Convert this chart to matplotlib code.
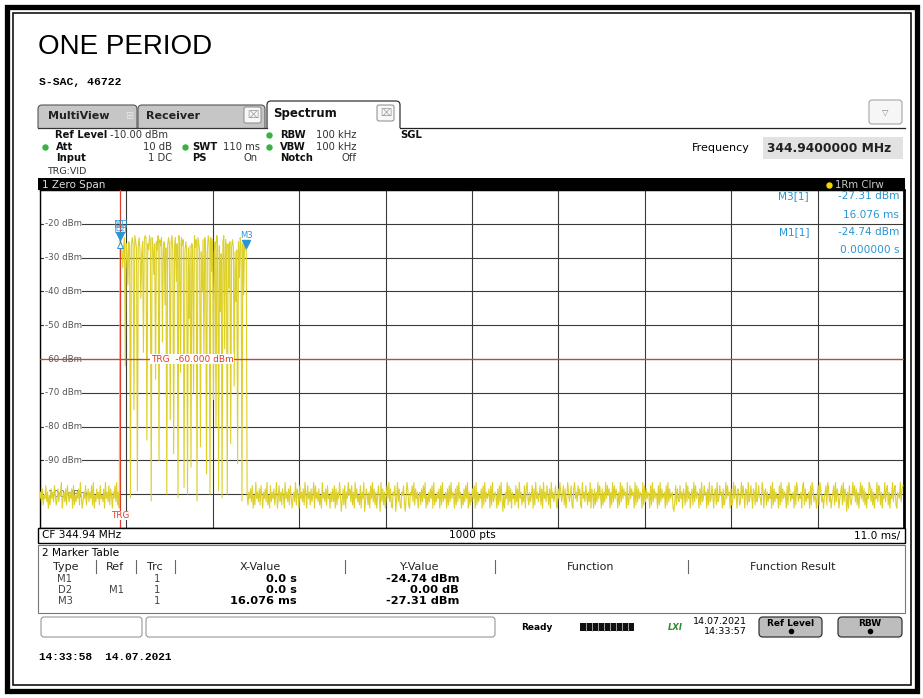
import numpy as np
import matplotlib.pyplot as plt
from matplotlib.patches import Rectangle, FancyBboxPatch

# ---- zero span trace, 1000 pts, 11 ms/div, trigger at 0
n_pts = 1000
dt_ms = 0.11

# noise floor before the trigger (one digit per point, 0 = low .. 9 = high)
noise_pre = ("4637254836152746385247365914637285364718253647295136482573648291"
             "53746284537194638275164839261")

# top of the burst (one digit per point, 0 = -23.5 dBm .. 9 = -28.9 dBm)
burst_top = ("0352617480362514703625174936201847036152483706251973062514730825184703"
             "6152483796251473062514738625184703615248370625197306251473062518470361"
             "5248372")
# notches inside the burst: point index -> dBm
dip_idx = [3, 6, 9, 12, 16, 20, 24, 27, 31, 36, 39, 41, 45, 49, 52, 54, 58, 62,
           65, 67, 70, 74, 78, 80, 82, 85, 89, 93, 95, 97, 100, 104, 106, 108,
           111, 114, 116, 118, 121, 124, 126, 128, 132, 134, 136, 138, 141, 143]
dip_db = [-33, -62, -38, -101, -75, -99, -42, -58, -84, -102, -35, -66, -90, -55,
          -44, -100, -78, -88, -37, -101, -64, -98, -100, -48, -92, -70, -102, -86,
          -40, -60, -94, -100, -34, -72, -80, -99, -46, -101, -57, -100, -39, -85,
          -68, -43, -91, -36, -102, -41]

# noise floor after the burst
noise_post = ("5264738152946372851647392518364725914836275194637285146392751846372951846273591846372519463728451637"
              "3817264950372816495738261947352816490375261849372615840937261584937216580493721658304972165839274615"
              "6273849152637481925364718293546172839465172839461527384916253748192635471829364571829346517283940516"
              "4928371645283719462538179426358172946358271946385271946358217496358271496358217946385721946385263917"
              "5172639485172639485716293847516293847561923847561928374651928374651829374651829374561829374561038274"
              "3846175293846157293846517293485617293485167293485617239485617239485176239485176293485176293485429716"
              "7263548192736451829374651829735461829735461892735461829735416829735146829735146829375146829375061842"
              "4958372615948372615498372615493872615493782615493782165493782165497382165497328165497328164973582614"
              "2846193750284619375028461937502846193750284619375028461937502846193750284619375028461937502846193750")

m1_t, m1_db = 0.0, -24.74
m3_t, m3_db = 16.076, -27.31
trg_db = -60.0
y_ticks = [-20, -30, -40, -50, -60, -70, -80, -90, -100]

pre_db = [-100.8 + (int(c) - 4.5) * 0.95 for c in noise_pre]
burst_db = [-23.5 - 0.6 * int(c) for c in burst_top]
for i, v in zip(dip_idx, dip_db):
    burst_db[i] = v
burst_db[0] = m1_db
burst_db[-1] = m3_db
n_post = n_pts - len(pre_db) - len(burst_db)
post_db = [-100.8 + (int(c) - 4.5) * 0.95 for c in noise_post[:n_post]]
trace = np.array(pre_db + burst_db + post_db)
t = (np.arange(len(trace)) - len(pre_db)) * dt_ms

W, H = 923, 698
fig = plt.figure(figsize=(W / 100, H / 100), dpi=100)
fig.patch.set_facecolor('white')

def px_box(l, tp, r, b):
    return [l / W, 1 - b / H, (r - l) / W, (b - tp) / H]

ax = fig.add_axes(px_box(40, 190, 904, 528))
ax.set_xlim(-10.2, 99.8)
ax.set_ylim(-110, -10)
ax.set_xticks([-10.2 + 11 * k for k in range(11)])
ax.set_yticks(range(-110, -9, 10))
ax.grid(True, color='#3a3a3a', lw=0.8, zorder=1)
ax.tick_params(length=0, labelbottom=False, labelleft=False)
for s in ax.spines.values():
    s.set_color('black')
    s.set_linewidth(1.0)
ax.spines['right'].set_linewidth(2.0)
ax.set_axisbelow(True)

grey = '#555555'
for v in y_ticks:
    ax.text(-9.6, v, f"{v} dBm", fontsize=6.3, color=grey, va='center', ha='left',
            zorder=2, bbox=dict(fc='white', ec='none', pad=0.4))

ax.plot(t, trace, color='#ddd02a', lw=0.8, zorder=3)

red = '#e03c2c'
ax.axvline(0, color=red, lw=0.9, zorder=4)
ax.axhline(trg_db, color=red, lw=0.9, zorder=4)
ax.text(3.9, trg_db, "TRG  -60.000 dBm", fontsize=6.5, color=red, va='center',
        ha='left', zorder=5, bbox=dict(fc='white', ec='none', pad=0.6))
ax.text(0, -106.3, "TRG", fontsize=6.3, color=red, va='center', ha='center',
        zorder=5, bbox=dict(fc='white', ec='none', pad=0.3))

blue = '#2896d2'
ax.plot([m1_t], [m1_db + 1.2], marker='v', ms=5.5, color=blue, zorder=6, clip_on=False)
ax.plot([m1_t], [m1_db - 1.6], marker='^', ms=4.5, mfc='white', mec=blue, mew=0.7, zorder=6)
ax.text(m1_t, m1_db + 4.9, "M1", fontsize=5, color=blue, ha='center', va='center', zorder=6,
        bbox=dict(fc='none', ec=blue, lw=0.5, pad=0.2))
ax.text(m1_t, m1_db + 3.3, "D2", fontsize=5, color=blue, ha='center', va='center', zorder=6,
        bbox=dict(fc='none', ec=blue, lw=0.5, pad=0.2))
ax.plot([m3_t], [m3_db + 1.2], marker='v', ms=5.5, color=blue, zorder=6)
ax.text(m3_t, m3_db + 3.9, "M3", fontsize=6, color=blue, ha='center', va='center', zorder=6)

# ---- instrument screen around the diagram, in pixel coordinates
ov = fig.add_axes([0, 0, 1, 1], zorder=10)
ov.set_xlim(0, W)
ov.set_ylim(H, 0)
ov.axis('off')

def T(x, y, s, **kw):
    kw.setdefault('fontsize', 7.2)
    kw.setdefault('va', 'center')
    kw.setdefault('family', 'DejaVu Sans')
    kw.setdefault('zorder', 7)
    ov.text(x, y, s, **kw)

def rbox(x0, y0, x1, y1, r, fc, ec, lw, z=1):
    ov.add_patch(FancyBboxPatch((x0, y0), x1 - x0, y1 - y0,
                                boxstyle=f"round,pad=0,rounding_size={r}",
                                fc=fc, ec=ec, lw=lw, zorder=z))

def dot(x, y, c='#3cb043'):
    ov.plot([x], [y], 'o', ms=3.6, color=c, zorder=7)

# outer frame
ov.add_patch(Rectangle((6.5, 6.5), 910, 684.5, fill=False, ec='black', lw=3.8, zorder=20))
ov.add_patch(Rectangle((12.5, 12.5), 898, 672, fill=False, ec='black', lw=1.1, zorder=20))

T(38, 47, "ONE PERIOD", fontsize=20, family='Liberation Sans')
T(39, 82, "S-SAC, 46722", fontsize=8.2, family='Liberation Mono', weight='bold')
T(39, 657, "14:33:58  14.07.2021", fontsize=8, family='Liberation Mono', weight='bold')

# tabs
rbox(38, 105, 137, 136, 4, '#c6c6c6', '#555555', 0.8)
rbox(138, 105, 265, 136, 4, '#c6c6c6', '#555555', 0.8)
rbox(267, 101, 400, 136, 4, 'white', '#333333', 0.9, z=2)
ov.add_patch(Rectangle((37, 128), 869, 50, fc='white', ec='none', zorder=3))
ov.plot([38, 267], [127.5, 127.5], color='#333333', lw=0.9, zorder=4)
ov.plot([400, 905], [127.5, 127.5], color='#222222', lw=0.9, zorder=4)
T(48, 116, "MultiView", fontsize=8, weight='bold', color='#222222')
T(129, 116, "\u229e", fontsize=7, color='#e6e6e6', ha='center')
T(146, 116, "Receiver", fontsize=8, weight='bold', color='#222222')
T(273, 114, "Spectrum", fontsize=8.5, weight='bold', color='#111111')
for x0, y0 in [(244, 107), (377, 105)]:
    rbox(x0, y0, x0 + 17, y0 + 16, 2, '#f8f8f8', '#888888', 0.7, z=5)
    T(x0 + 8.5, y0 + 8, "\u2327", fontsize=7, color='#999999', ha='center')
rbox(869, 100, 902, 124, 3, '#f6f6f6', '#999999', 0.7, z=5)
T(885.5, 112, "\u25bd", fontsize=6, color='#888888', ha='center')

# setup panel
bold = dict(weight='bold', color='#111111')
norm = dict(color='#333333')
T(55, 135, "Ref Level", **bold)
T(110, 135, "-10.00 dBm", **norm)
dot(269, 135)
T(280, 135, "RBW", **bold)
T(316, 135, "100 kHz", **norm)
T(400, 135, "SGL", **bold)
dot(45, 147)
T(56, 147, "Att", **bold)
T(172, 147, "10 dB", ha='right', **norm)
dot(185, 147)
T(192, 147, "SWT", **bold)
T(260, 147, "110 ms", ha='right', **norm)
dot(269, 147)
T(280, 147, "VBW", **bold)
T(316, 147, "100 kHz", **norm)
T(56, 158, "Input", **bold)
T(172, 158, "1 DC", ha='right', **norm)
T(192, 158, "PS", **bold)
T(258, 158, "On", ha='right', **norm)
T(280, 158, "Notch", **bold)
T(357, 158, "Off", ha='right', **norm)
T(47, 171, "TRG:VID", fontsize=6.8, color='#333333')

T(692, 148, "Frequency", fontsize=8)
ov.add_patch(Rectangle((763, 137), 140, 22, fc='#e2e2e2', ec='none', zorder=4))
T(767, 148, "344.9400000 MHz", fontsize=8.8, weight='bold', color='#222222')

# diagram title bar
ov.add_patch(Rectangle((38, 178), 867, 12, fc='black', ec='none', zorder=4))
T(42, 184.5, "1 Zero Span", fontsize=7.5, color='#dddddd')
dot(829, 185, c='#f0d800')
T(835, 184.5, "1Rm Clrw", fontsize=7.3, color='#c8c8c8')

# marker readout
T(809, 196, "M3[1]", fontsize=7.6, color=blue, ha='right')
T(899, 196, "-27.31 dBm", fontsize=7.6, color=blue, ha='right')
T(899, 215, "16.076 ms", fontsize=7.6, color=blue, ha='right')
T(809, 232, "M1[1]", fontsize=7.6, color=blue, ha='right')
T(899, 232, "-24.74 dBm", fontsize=7.6, color=blue, ha='right')
T(899, 250, "0.000000 s", fontsize=7.6, color=blue, ha='right')

# bottom bar of the diagram
ov.add_patch(Rectangle((38, 528), 867, 15, fc='white', ec='black', lw=1.0, zorder=4))
T(42, 535.5, "CF 344.94 MHz", fontsize=7.6)
T(472, 535.5, "1000 pts", fontsize=7.6, ha='center')
T(900, 535.5, "11.0 ms/", fontsize=7.6, ha='right')

# marker table
ov.add_patch(Rectangle((38, 545), 867, 68, fc='white', ec='#777777', lw=0.8, zorder=4))
T(42, 553, "2 Marker Table", fontsize=7.6)
heads = [(66, "Type"), (115, "Ref"), (155, "Trc"), (260, "X-Value"),
         (420, "Y-Value"), (591, "Function"), (793, "Function Result")]
for x, s in heads:
    T(x, 567, s, fontsize=8, ha='center', color='#222222')
for x in [96, 136, 175, 345, 495, 688]:
    ov.plot([x, x], [560, 573], color='#666666', lw=0.8, zorder=5)
row_y = [579, 590, 601]
types = ["M1", "D2", "M3"]
refs = ["", "M1", ""]
x_vals = ["0.0 s", "0.0 s", "16.076 ms"]
y_vals = ["-24.74 dBm", "0.00 dB", "-27.31 dBm"]
for y, ty, rf, xv, yv in zip(row_y, types, refs, x_vals, y_vals):
    T(65, y, ty, fontsize=7.2, ha='center', color='#444444')
    T(116, y, rf, fontsize=7.2, ha='center', color='#444444')
    T(157, y, "1", fontsize=7.2, ha='center', color='#444444')
    T(297, y, xv, fontsize=8.2, ha='right', weight='bold')
    T(459, y, yv, fontsize=8.2, ha='right', weight='bold')

# status line
rbox(41, 617, 142, 637, 3, 'white', '#888888', 0.7, z=5)
rbox(146, 617, 495, 637, 3, 'white', '#888888', 0.7, z=5)
T(537, 627, "Ready", fontsize=6.5, weight='bold', ha='center')
ov.add_patch(Rectangle((580, 623), 54, 8, fc='#111111', ec='none', zorder=5))
for k in range(1, 9):
    ov.plot([580 + 6 * k, 580 + 6 * k], [623, 631], color='#bbbbbb', lw=0.6, zorder=6)
T(675, 627, "LXI", fontsize=6, weight='bold', style='italic', color='#2e8b2e', ha='center')
T(747, 622, "14.07.2021", fontsize=6.8, ha='right')
T(747, 632, "14:33:57", fontsize=6.8, ha='right')
for x0, x1, s in [(759, 822, "Ref Level"), (838, 902, "RBW")]:
    rbox(x0, 617, x1, 637, 4, '#bdbdbd', '#333333', 0.9, z=5)
    T((x0 + x1) / 2, 623, s, fontsize=6.5, weight='bold', ha='center')
    ov.plot([(x0 + x1) / 2], [631], 'o', ms=3, color='black', zorder=7)

fig.savefig('out.png', dpi=100)
